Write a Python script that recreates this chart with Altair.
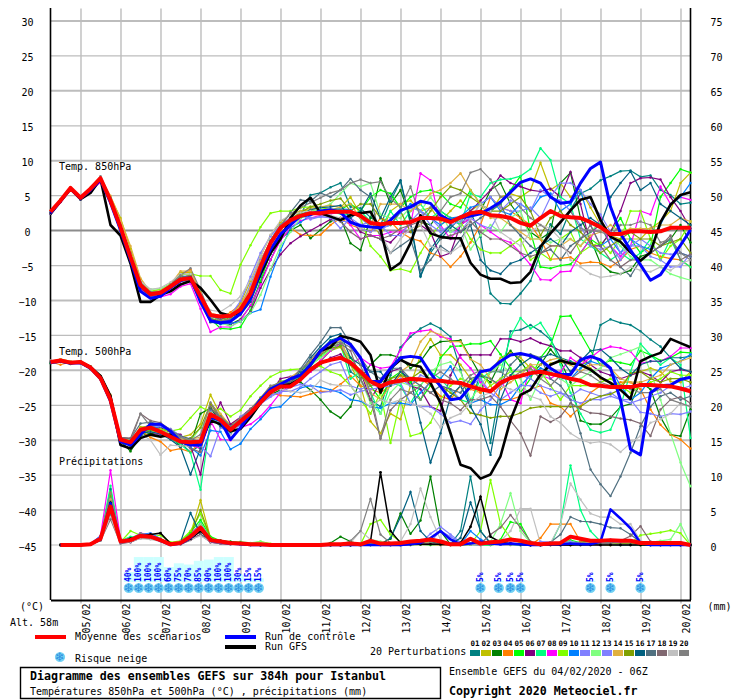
import altair as alt
import pandas as pd

NAMES = ["%02d" % i for i in range(1, 21)]
COLORS = ["#008080", "#c0c000", "#008000", "#ff8000", "#00ff00", "#800080", "#00ff80", "#ff00ff", "#80ff00", "#0080ff",
          "#8080ff", "#80ff80", "#8080ff", "#e0b040", "#80a000", "#006080", "#507080", "#806870", "#c0c0c0", "#808080"]

# 850 hPa, one value every 6 h from 04/02 06Z
T850_MEAN = [2.9,4.5,6.3,4.9,6.2,7.7,4.5,.7,-3.6,-7.6,-8.9,-8.7,-7.8,-6.8,-6.6,-9.2,-11.9,-12.1,-12,-11.1,-8.8,-5,-1.6,.6,1.7,2.3,2.7,2.7,2.9,2.9,
             2.9,2.3,1.3,1.1,1.3,1.3,1.4,2,2,1.9,1.4,2.1,2.7,2.9,2.4,2.3,2,1.3,.9,2,3,2.3,2.1,2,1.4,.7,-.3,-.3,.1,.1,0,.1,.6,.6,.6]
T850_CTRL = [2.7,4.4,6.2,4.8,6,7.5,4.2,.3,-4,-8.5,-9.5,-9.2,-8,-7,-6.5,-10,-12.7,-13,-12.8,-11.7,-9.5,-5.5,-2.5,-.3,1,2.3,2.5,3,3.2,2.8,
             1.4,.9,.7,.6,1.7,3.1,3.6,4.4,4.1,2.4,1.6,2,2.3,2.6,3.4,4.3,5.7,7.1,7.6,7,5,4.1,4.3,7,9.1,10,3.6,-.2,-2.6,-4.7,-6.9,-6.1,-4,-1.9,.3]
T850_GFS = [2.6,4.4,6.2,4.7,5.6,7.6,1,-.5,-4.5,-10,-10,-9,-8.5,-7.5,-7,-8,-9.7,-11.6,-12,-11.5,-9,-6,-3,-1,2,3.8,4.9,2.7,2.2,1.7,
            2.4,2.7,2.9,.3,-5.4,-4.4,-1.6,2.4,-.2,-.7,-.9,-.9,-4.4,-6.1,-6.7,-6.7,-7.3,-7.2,-5.7,-2.1,-.2,1.4,3.1,4.6,5,1.7,-.7,-1.4,-2.9,-4.1,-2.9,1.4,3.9,5.3,5.7]
T850 = {
"01": [2.8,4.5,6.3,4.9,6.1,7.7,4.6,.5,-3.4,-7.2,-8.8,-8.6,-7.6,-6.2,-6.6,-10.1,-12.4,-12.7,-12.5,-11.6,-9.3,-5.8,-1.8,.4,1.5,2.4,5.3,5.6,6.4,7,
       3.6,3.4,2.1,1,4.4,7.3,1.1,-6.4,-3,-1,.6,2,3,-.7,-8.8,-10.2,-10.3,-8.8,-7,-3,1.1,-.3,3.2,5.5,6.2,7.4,8,8.7,8.8,7.9,8.1,6,5.3,4,4.2],
"02": [3,4.6,6.2,4.8,6.3,7.5,5,2,-2.4,-6.8,-8.6,-8.2,-7.5,-5.8,-5.8,-8.6,-12,-12.6,-12,-10.2,-7,-3.5,-.5,1.4,2.5,3,3.2,3,3.2,3.5,
       5,2.5,1.5,-.5,3,4,4.5,3,3.5,1.5,3,4.5,3,4,3,5,5.5,5,6,9.9,6,7,5,6,3.5,1,-.5,-1,-1,-1,.5,1.5,3,7,8.5],
"03": [2.7,4.3,6,4.6,6,7.4,4.2,.2,-4.2,-8,-9,-8.8,-7.9,-6.9,-6.6,-9.8,-12.6,-13,-13.2,-12.5,-10.6,-7.2,-4,-1,.2,1,-.9,.3,1.5,2,
       -1.6,-2.6,2,7.7,4,6,2,1.5,1,3,2,1,2,3,6,7,4,2,0,-1,0,7,8.5,2,-1,-4.5,-5.7,-6,-5.5,-3.5,-3,-2,-1,1,-1.5],
"04": [3,4.6,6.4,5,6.3,7.6,4.7,1,-3.2,-7.4,-8.9,-8.9,-7.8,-6.3,-5.4,-9,-12.1,-12.4,-11.5,-10.4,-8,-4,-1.4,.2,.6,-.4,-.5,-.4,1,2,
       1,.5,0,2,1.5,0,-.9,-1.3,-3,-3.5,-5,-3.5,-1.5,1,5,3.5,3,2,1,-1,-3.9,-3.8,-3.6,-4.5,-4.3,-4.4,-5,-4,-2.5,-2,-3,-3.5,-3.8,-4,-5],
"05": [2.9,4.5,6.3,4.8,6.2,7.7,4.4,.6,-3.8,-7.9,-9,-8.4,-7.7,-6.6,-6.6,-9.4,-12.4,-13.8,-13.9,-13.6,-11.2,-7,-3,-.4,1.2,2,2.5,3,3,3.2,
       4,3,5,6,5.5,3.5,5,5.8,6,5.5,4,3.5,6,4,3,4,6,8,0,-5,-5.2,-4.8,-4.6,-3,-1,-2,0,2,-1,-3,-2,5,7,9,8.5],
"06": [2.6,4.3,6,4.7,6,7.4,4.1,.4,-3.9,-8.1,-9.2,-8.9,-7.9,-6.9,-6.7,-9.6,-12.9,-13,-13.1,-12.8,-11.4,-8,-5.4,-3.2,-1.6,-.6,.2,1,1.8,2,
       2,0,-.5,-1,-1.5,0,0,1,0,-3.5,-3,1,3,4.5,6,8.1,7,6.5,6,5.8,6.2,5,8.6,4,-2,-2,0,3,7,7.7,7.8,7.5,5,3,.5],
"07": [2.8,4.6,6.2,4.9,6.2,7.7,4.6,.8,-3.5,-7.5,-8.7,-8.5,-7.6,-6.6,-6.5,-9,-11.9,-12.4,-12.2,-11,-8.5,-4.6,-1.2,1,2,2.6,3,3,2.8,2.6,
       2.5,3,1.5,.5,3,1,3,4,2,3,2,1,5.5,5,7,7.5,7.6,8,9,12,10.3,5,4,-1,-2,-3,-4,-3,-4,-3,-1,-4,-1,-4,-5],
"08": [2.7,4.4,6.2,4.7,5.9,7.1,4.3,.3,-3.9,-8.3,-9.4,-9.3,-8.9,-7.8,-7.4,-11,-14.3,-13.6,-13.6,-12.6,-10.5,-7.5,-4,-1.2,.6,1.6,2,2.4,2.6,2.8,
       1,-1,-.5,-.5,0,0,1,8.4,7.4,1,-1,1,2,1,0,-1,-1.5,-3,-4.7,-6.8,-6.9,-5.7,-5.6,-3,-1,2,-2,-3.5,-2,3,2.5,6.5,4,5,4.6],
"09": [2.9,4.7,6.3,5,6.1,7.7,4.8,1,-3.3,-7.3,-8.5,-8.2,-7.4,-6.1,-6,-6.3,-6.3,-8.3,-8.8,-4.7,-1.9,.7,2.7,3,3,3.5,3.6,3.5,3.2,3.2,
       3,2,-2,-3.5,-5.5,-5.3,-5.7,-3,-.5,1,2,1.5,-1,-2.5,-3,-3,-2,-1,-4,-3,-4,-1,0,-3,-2,-1.5,-3,-1,3,3,-1,-4,-2,-1,1.5],
"10": [2.7,4.4,6.1,4.7,6,7.4,4.2,.1,-4.4,-8.4,-9.2,-9,-7.9,-6.8,-6.7,-10,-12.8,-13.2,-13.1,-12.8,-11.6,-11.1,-6.4,-2.6,.6,1.4,2.4,3,3.2,3.3,
       3.2,2,.8,.5,1,2.8,4,3,2,1,2,2.2,3.5,4,5,3,2.5,4,3,5,5.5,3,4,6,1,-2,-1,-3,-1,-2,-2.5,1,4,5,7],
"11": [2.9,4.5,6.3,4.9,6.2,7.5,4.7,1,-3.3,-7.6,-8.8,-8.7,-7.7,-6.5,-6.1,-8.8,-11.8,-12.4,-11.9,-9.9,-6.4,-3,-.6,1,2,2.4,1.8,2.2,2,1.5,
       1.5,.5,0,1,-.5,-.5,1.5,3,2,.5,0,0,2,4,5,3.5,3,3,3.5,2,5,7,7,6,4,2.5,0,-3,-2,-1,-2,-3,-3.2,-3,-3.5],
"12": [2.8,4.7,6.4,4.8,6.3,7.7,4.5,.7,-3.6,-7.5,-8.2,-8.1,-7.5,-6.4,-6.4,-9.1,-11.8,-13,-13.5,-12.8,-11.6,-9,-5.4,-2,0,2,2.8,3.4,4,5.5,
       7,6.5,7,2.5,2,2,3.5,3,5,3,0,1,-2.5,-.5,1,0,2,3,-1,-1,-1.5,-1,-1,-2,0,1.5,-.5,-2,-3.5,-4,-4,-5,-6,-6.5,-6.9],
"13": [2.8,4.5,6.2,4.8,6.1,7.5,4.4,.6,-3.7,-7.7,-8.8,-8.6,-7.8,-6.7,-6.5,-9,-12.1,-12.4,-12,-10.8,-7.5,-4,-1.5,.8,2,2.4,2,2.2,2.1,.5,
       2,1,1.5,.5,1,3,3.5,3,1,0,1,1.5,2,1,.5,3,4.5,4,3,6,5,4.5,3,1,-2,-2.5,-2,-4,-2,-2,-3.5,-4,-5,-5,-3],
"14": [3,4.6,6.4,5,6.3,7.8,5.2,1.8,-2,-6.6,-8.6,-8.4,-7.5,-5.6,-5.6,-8.8,-11.6,-12,-11.8,-10.5,-8,-4.2,-1.6,.6,1.6,3,3.4,3.6,3.8,3.5,
       4,2,1,4,4,4,3,4,5.5,6,7,8.4,6,4,2,2,1,0,-1,-1,-2,-2,-1,-2,-.5,0,1,0,.5,.5,.5,1,1,2,1.5],
"15": [2.8,4.5,6.3,4.9,6.2,7.6,4.6,.8,-3.6,-7.6,-8.9,-8.7,-7.8,-6.6,-6.2,-9.2,-12.4,-12.8,-12.2,-11,-8.7,-4.8,-1.5,.5,1.8,2.8,3.6,4,4.5,4.8,
       3,4,4,2,1,3,0,1,3,5,6.5,6,5,4,3,3,4,5,3,-.5,2,3,1,0,-1.5,-3,-2,-1,0,-1,-1,-2,-1.5,-1,-3],
"16": [2.7,4.4,6.2,4.8,6,7.6,4.5,.4,-4,-7.8,-9,-8.8,-7.9,-7,-7,-10,-12.9,-13.1,-12.8,-11.8,-10,-6.4,-3.2,-.8,1,2.4,3.2,3.5,3.6,3.8,
       2,3,5.5,2,5,7.4,1.5,-6.3,-2.5,-.5,1,0,1,-4,-5.5,-6,-4.5,-4,-3,-2,-1,-2,0,1,2,1,5,7,8.7,6,7,4,3,2,1],
"17": [2.8,4.5,6.3,4.8,6.1,7.7,4.8,.9,-3.5,-7.4,-8.6,-8.6,-7.6,-6.4,-6.4,-9.5,-12,-12.5,-12,-11,-8.4,-4.8,-1.4,.8,2.8,4.6,4.4,5.6,5,6,
       7.6,6,5,-1,-3,-2,-1,-5.5,-4,-2,-3,-1,1,2,3,4,1,-.5,-2,-3,-2.5,-4,-2,-1,0,1,-2,-5,-6.3,-4,-3,-2,-1,-3,-3.5],
"18": [2.7,4.4,6.2,4.8,6,7.5,4.4,.5,-3.8,-7.8,-9.2,-8.9,-8,-6.8,-6.6,-9.6,-12.5,-12.9,-12.6,-11.7,-9.6,-6,-3,-.4,1.3,2.2,2.6,2.5,2.2,1.5,
       0,-1,-.5,-1,-.5,.5,1,1.5,.5,-1,-.5,0,1.5,0,-1,-1,-2,-3,-3.5,-3,-2,-2,-3,-1,1,-2,-4,-5,-4,-4,-3,-2,-.5,-4,-3.2],
"19": [2.9,4.6,6.4,4.9,6.2,7.9,4.6,.8,-3.3,-7,-8.2,-8,-7.2,-6,-6,-9.2,-11.2,-11.4,-10.5,-9.2,-6.8,-3.5,-.4,1.6,2.4,2.8,3,2.8,2.4,2,
       1.5,.5,1,0,-3,-1,.5,1,-2,-2.5,-3,-2,2,4,3,0,-1,-2,0,1,.5,-1,-4,-5,-6,-6.5,-6.3,-6,-5,-5.5,-5.7,-5,-5.5,-4.5,-4],
"20": [2.9,4.6,6.3,5,6.2,8,4.9,1,-3,-7.2,-8.7,-8.6,-7.5,-6.2,-5.2,-8.3,-11.8,-12.8,-12.4,-10.8,-8.5,-4.5,-1.2,1,2.6,3.5,4.2,4.9,5.6,6,
       7,7.5,7,7.2,4.8,3.5,6.5,2,3.5,3,5,5.5,8.5,9,7.5,5,5,3.5,2,1,0,1.5,3,.5,.2,0,-.5,1,1,1.5,1,-1.5,-1,-3,-4],
}

# 500 hPa
T500_MEAN = [-18.6,-18.4,-18.7,-18.6,-19.4,-20.9,-24,-29.7,-30.1,-28.3,-28,-28.6,-29.3,-30,-30.1,-30,-26.1,-26.9,-28.3,-27.1,-25.9,-24.4,-22.9,-22.1,-22.1,-21.1,-19.7,-18.7,-18.3,-18,
             -18.7,-20,-21.4,-22.1,-21.5,-21.3,-21,-21.1,-21.3,-21.3,-21.5,-21.6,-22.1,-22.5,-22.8,-21.6,-20.9,-20.6,-20.2,-20,-20.3,-20.6,-21,-21.3,-21.9,-22,-22.2,-22.2,-22.2,-21.9,-21.9,-22,-22.1,-22.4,-22.8]
T500_CTRL = [-18.7,-18.5,-18.8,-18.7,-19.5,-21,-24.2,-30,-30.5,-29,-27.5,-27.5,-28.5,-30,-30.5,-30.5,-26.5,-27,-29.7,-28,-26,-24,-22.5,-21.8,-21,-20.5,-19,-17,-15.8,-15.2,
             -16.1,-18,-21.4,-21.4,-19.5,-18,-17.8,-18,-20.2,-22.1,-24,-23.8,-22.1,-20,-19.7,-18.5,-17.6,-17.4,-17.7,-18.3,-19.5,-20.4,-20.4,-18.3,-17.8,-18.3,-19.5,-24,-31.1,-31.9,-23,-22,-21.9,-21.1,-20.8]
T500_GFS = [-18.6,-18.5,-18.7,-18.6,-19.3,-20.6,-23.5,-30.5,-31,-29.5,-29,-29.3,-29,-30,-30.5,-30,-27,-27.5,-28.5,-28.2,-26.5,-24.5,-23,-22,-21.8,-21,-19,-17,-16.5,-14.9,
            -15.2,-15.7,-17.6,-23,-19.5,-18.3,-19,-19.3,-21.6,-24.5,-28.8,-33.3,-33.8,-35.3,-34.7,-32.1,-26.9,-23.3,-22.6,-20.4,-19,-18.4,-18.8,-19,-19.7,-20.8,-21.6,-22.6,-23.9,-18.5,-17.8,-17.3,-15.3,-15.9,-16.5]
T500 = {
"01": [-18.7,-18.3,-18.7,-18.6,-19.3,-20.7,-23.5,-29.4,-30.3,-28.1,-27.6,-28.3,-29,-30.2,-31.5,-30.5,-27,-27.3,-28.6,-27,-25.6,-24,-22.3,-21.6,-21.5,-20,-18.6,-17,-15.5,-15,
       -20,-21,-24,-25,-20.5,-16.5,-15,-13.8,-13.1,-13.8,-15,-19.7,-25,-20,-30.2,-22,-14.2,-14,-13.3,-14.2,-15.4,-18,-18.5,-19,-18.5,-13.3,-12.5,-13,-13.3,-14.2,-15.4,-16.4,-18,-18,-17.8],
"02": [-18.5,-18.2,-18.5,-18.7,-19.2,-20.6,-23.4,-29.3,-30,-27.9,-27.9,-28.2,-28.7,-29.4,-29,-27.5,-23.3,-26.2,-27.6,-26.6,-25.4,-24,-22.2,-22,-21.6,-20.8,-19,-18,-17,-16.5,
       -19,-22,-27.1,-28.8,-26,-26.8,-22,-17.6,-15.3,-17.6,-17.6,-19,-21,-23,-20,-18,-17.3,-18,-19.5,-21,-18.8,-18.6,-19,-18.2,-19.5,-21,-21.6,-22,-20.5,-20,-19.5,-20,-21.4,-21.5,-20],
"03": [-18.8,-18.5,-18.9,-18.6,-19.6,-21,-24,-29.9,-31.4,-29.2,-28.8,-29,-29.4,-30.6,-30.5,-26,-25.2,-27.2,-28.6,-27.5,-26,-24.6,-23.3,-22.6,-21.6,-21.5,-22.6,-24,-25.7,-26.6,
       -25,-21,-19,-17.6,-17.6,-18,-19.5,-18.5,-16.5,-15.7,-15.6,-15.5,-18,-20.5,-21.5,-18.6,-17,-18.5,-20.5,-19,-16.8,-18.5,-21.5,-27,-27.5,-27.5,-26.6,-25,-24.6,-21.5,-22.5,-26.5,-29,-29.2,-25.4],
"04": [-18.6,-19,-18.6,-18.5,-19.4,-20.9,-24.2,-29.8,-30.2,-28.4,-29.4,-30,-31.3,-31,-31.5,-30,-26.4,-26.8,-28.2,-26.7,-25.8,-24.6,-23,-23.4,-23.5,-23.6,-23.2,-22.8,-22.8,-21.8,
       -20.6,-22,-22.5,-23,-22,-20.5,-22,-21,-22,-23.5,-24,-22,-22.5,-23,-22,-24,-24,-23.5,-22.5,-22,-24.5,-25,-26.4,-25,-23,-22,-22,-21.5,-21.5,-22.5,-25.4,-27.6,-29,-29.7,-31],
"05": [-18.7,-18.5,-18.8,-18.7,-19.5,-21,-24.3,-30,-30.5,-28.7,-28.3,-28.6,-29.2,-29.8,-30.4,-31,-26.3,-27.4,-28.8,-27.2,-25.5,-24,-22.4,-22.2,-21.9,-21,-19.8,-18.5,-17,-16.2,
       -18,-20,-22,-24,-21,-20,-21.5,-24,-22,-18,-16.4,-16.3,-16,-16,-15.6,-17.5,-19.5,-23,-21,-18,-16.2,-12.1,-12,-14.5,-17,-19,-18.4,-18.7,-19,-17,-17.6,-18.4,-18,-17.2,-17.3],
"06": [-18.6,-18.4,-18.7,-18.6,-19.4,-21,-24.2,-29.6,-30.4,-28.4,-28.2,-28,-28.6,-29,-30.6,-34.7,-27.5,-24.4,-27.5,-26.5,-25.3,-24,-23,-21,-20.7,-20.5,-20,-19,-18,-17.5,
       -19,-20,-24,-21.5,-20,-19.5,-22,-22.5,-25,-25.6,-20.5,-17.6,-17.6,-17.6,-17.6,-15.3,-15.3,-15.7,-15.2,-15.9,-16.3,-17,-17,-18,-19,-20,-20.5,-21,-20.5,-20,-20.5,-21.5,-20,-19.7,-20],
"07": [-18.6,-18.3,-18.6,-18.5,-19.3,-20.8,-23.8,-29.7,-30.1,-28.2,-27.9,-28.6,-29.5,-30.4,-31.6,-36.9,-27.2,-27,-28.1,-27,-25.8,-24.4,-22.8,-22,-21.8,-20.6,-19.2,-17.8,-16.8,-16,
       -21,-20,-23,-26,-21.5,-22,-24.5,-22,-20,-21,-22.6,-24,-24.5,-21,-20,-20,-15,-12.3,-13.8,-13,-15.2,-19,-23,-26,-28.3,-28.7,-28.3,-25,-20,-16,-17.6,-19,-18,-19,-29.5],
"08": [-18.5,-18.4,-18.7,-18.6,-19.4,-20.8,-23.9,-29.5,-30,-28.4,-28.6,-29,-29.5,-30,-30.4,-31,-27,-29.7,-29.8,-28,-27.5,-26.4,-24.8,-23,-21.8,-21.2,-20,-18.4,-17,-16,
       -19,-18,-19,-19.5,-19.3,-16.9,-14.5,-14.2,-14,-15,-15.3,-18,-19.5,-21.5,-23,-21,-24,-24.5,-19,-20.5,-21,-20,-18,-19,-18,-16.9,-16.4,-16.6,-17.1,-18.8,-18.5,-18.5,-17.8,-16.6,-16.6],
"09": [-18.6,-18.3,-18.6,-18.6,-19.2,-20.7,-23.6,-29.4,-29.9,-28.6,-28.4,-28.2,-28.5,-28.2,-26.6,-25,-25.8,-25.3,-26.4,-25.5,-23.5,-22,-20.7,-20,-19.7,-19.6,-19.4,-19.2,-20,-20.5,
       -22,-24,-26,-23,-30.2,-24,-29.2,-28.8,-27.3,-24,-22,-21,-21.5,-20,-22,-21,-20,-20,-19,-20,-22,-24,-22,-22,-22,-21.5,-21,-22,-23,-22,-21.5,-21,-20,-20.5,-20.5],
"10": [-18.7,-18.5,-18.8,-18.7,-19.5,-21,-24.4,-29.9,-30.6,-28.7,-28.2,-27.8,-28.5,-29.6,-30.8,-32,-28.4,-28.6,-31.1,-30.3,-28.2,-26.8,-25.2,-25,-23.6,-22.3,-22,-22.2,-22.6,-23,
       -24,-24.2,-25,-25.2,-24.5,-24.5,-24.7,-23,-21.5,-21,-19.2,-22,-24.5,-24,-24.7,-24.7,-24,-22,-20.5,-19.5,-20,-21,-21,-19.5,-18.5,-19,-19.5,-22,-24,-23,-21,-19.5,-19,-18.5,-17.5],
"11": [-18.6,-18.4,-18.6,-18.6,-19.3,-20.9,-24,-29.8,-30.4,-28.3,-27.6,-27.6,-28.2,-29.2,-30,-30.6,-32.1,-28,-28.6,-27.6,-26,-24.6,-23.3,-23,-22.2,-21.8,-22,-23,-22.8,-22.6,
       -23.3,-22.8,-22.5,-22.3,-22,-21.6,-24.5,-25,-25,-26,-27.3,-27,-27.5,-25.5,-24,-22,-21,-20.5,-21,-22,-22.5,-23,-24,-24.5,-24,-24,-23.5,-24,-24,-25.8,-26,-26.4,-26,-26.1,-25.7],
"12": [-18.7,-18.4,-18.8,-18.6,-19.4,-20.8,-23.8,-29.5,-30.3,-28.8,-28.5,-28.8,-29,-29.6,-30,-28,-26,-27,-28.7,-27,-25.7,-24,-22.2,-21.4,-21,-20.2,-19,-18,-16.8,-15.6,
       -19,-21,-24.5,-26,-23,-21.5,-22,-22,-20,-19,-18.6,-20,-24,-22,-20,-19,-20,-21,-24,-21,-20,-21,-22,-21,-20,-19.5,-18,-17.5,-17,-16.4,-20,-24,-28.8,-33,-36.4],
"13": [-18.6,-18.4,-18.7,-18.7,-19.4,-20.9,-24,-29.6,-30.2,-28.3,-27.8,-27.8,-28.2,-29.3,-30.2,-30,-25.6,-27.3,-28.9,-26.4,-25.6,-24.6,-23.6,-22.8,-22.8,-22.2,-21,-20,-19,-18.6,
       -22,-22.5,-22,-22,-21.5,-21,-22,-20.5,-21,-22,-22.5,-24,-22,-21,-23,-24,-23,-22,-22,-23,-23.5,-23,-23.5,-22.5,-23,-23.5,-23,-24,-24.5,-24,-23.5,-23,-22,-22.5,-22],
"14": [-18.6,-18.2,-18.5,-18.5,-19.2,-20.6,-23.3,-29.3,-30,-28.2,-28,-28.4,-29,-29.6,-29.6,-29.4,-24.6,-26,-27.8,-26.7,-25.6,-23.8,-22,-22,-20.8,-19.8,-18.4,-17,-16.2,-15.6,
       -18.5,-20,-23,-24,-22,-20,-19,-15.7,-14.2,-14.7,-15.7,-15.7,-18.2,-19,-21,-22.5,-21.5,-20.5,-19,-19,-18.3,-18,-19,-20,-19,-19,-19.5,-21,-21.5,-21.5,-21,-20.5,-19,-18.5,-18],
"15": [-18.7,-18.4,-18.7,-18.6,-19.4,-20.8,-23.7,-29.5,-30.6,-29,-28.4,-28.6,-29.4,-30,-29.5,-28,-24.6,-26.6,-28,-26.8,-25.4,-23.7,-22.3,-21.4,-21.2,-20.6,-18.8,-17.6,-16.6,-16.4,
       -19,-20.5,-22,-21.5,-21,-20.5,-21,-20,-21,-22,-23,-24,-25.9,-26.2,-26.6,-26.4,-26.4,-25.9,-25.2,-25,-25,-25,-25,-25,-24,-23.5,-23.2,-22.5,-20.2,-20,-21,-21.5,-21,-21,-21.5],
"16": [-18.7,-18.5,-18.8,-18.8,-19.6,-21.1,-24.4,-30,-30.6,-28.8,-28.6,-28.9,-29.7,-30.8,-34.7,-31,-26.6,-27.8,-28.6,-27.4,-25.9,-24.4,-22.7,-22,-21.5,-20,-18,-16.4,-15,-14.6,
       -18,-19,-20,-20,-22,-20,-21,-27.3,-33,-28.8,-23.5,-22,-25,-27.5,-31.9,-24,-20.5,-19,-18,-18,-17.5,-18,-20,-18.5,-17,-16.8,-18,-19.5,-20.5,-19,-18.5,-18.5,-18,-19.5,-20],
"17": [-18.5,-18.3,-18.6,-18.5,-19.3,-20.6,-23.6,-29.4,-29.6,-27.4,-27.2,-27.6,-28.4,-29.2,-29.6,-30,-25.4,-26.4,-27.8,-26.8,-25.5,-23.9,-22.3,-21.6,-21.4,-19.6,-17.6,-15.8,-13.7,-13.7,
       -16,-18,-20,-21,-19.5,-19.5,-21,-22,-23,-22,-22.5,-23,-21,-20.5,-21,-22,-19,-17.6,-17.5,-18,-21,-22,-24,-28.8,-34,-36.1,-37.8,-35,-31.6,-27.8,-25,-23.5,-23,-24,-23.5],
"18": [-18.6,-18.4,-18.7,-18.7,-19.4,-20.9,-23.9,-29.4,-29.5,-26,-27,-27.3,-28.3,-29.8,-31,-31.5,-25,-26.8,-28.4,-26.9,-25.7,-24.3,-22.6,-21.8,-21.6,-20.4,-18.8,-17.4,-16.4,-16,
       -17,-21,-24,-29.6,-25.5,-24,-23,-22,-23,-24,-24.5,-25.5,-24,-24,-23.5,-25,-27,-28.8,-32,-26.4,-27.2,-26.4,-24.5,-25.3,-25.9,-26,-26.4,-26.7,-26.9,-27.4,-29.2,-25.4,-24,-23.6,-24.5],
"19": [-18.4,-18.4,-18.6,-18.6,-19.3,-20.7,-23.7,-29.5,-30.1,-28.8,-29.8,-31.9,-30.5,-30.6,-30.6,-29.4,-26,-27.5,-29,-27.2,-25.8,-24.2,-22.6,-22.5,-22.8,-23,-22.7,-21.2,-21.8,-22,
       -22,-24,-25,-24,-24.5,-24,-24.5,-25,-26,-28,-26.6,-26,-24.5,-23.5,-23,-22,-22.5,-23,-23.5,-24,-26.4,-27.3,-28.8,-29.7,-30.2,-30,-30.4,-31.5,-30.2,-29.2,-27.3,-26.8,-26,-24.5,-25],
"20": [-18.5,-18.3,-18.7,-18.5,-19.3,-20.7,-23.5,-29.5,-30,-26,-27.8,-27.6,-28.4,-29.4,-29.8,-29,-24.4,-26.5,-28,-26.6,-25.4,-23.8,-22,-21.6,-21.2,-19.8,-18.2,-16.8,-16,-15.8,
       -16.5,-19,-23,-29.5,-24,-22.5,-23,-24,-21,-20,-21,-22,-20.5,-19.8,-20,-20,-21,-20,-19.5,-21,-22,-20.5,-21,-20,-20.5,-21.5,-22,-22,-22.5,-23,-23,-22.5,-24,-24.5,-25],
}

# precipitation (mm), starts at the second time step
PR_MEAN = [0,0,0,.1,.9,5.5,.5,.7,1.3,1.2,.7,.1,.3,1.2,2.5,.7,.5,.3,.2,.1,.1,0,0,0,0,0,0,.1,.1,
           .2,.1,.6,.2,.2,.3,.5,.6,.8,.5,.1,.1,.9,.2,.4,.5,.8,.6,.3,.1,.2,.3,1.2,.9,.6,.6,.7,.6,.6,.3,.3,.3,.3,.3,0]
PR_CTRL = [0,0,0,.1,.8,6,.4,.7,1.4,1.2,.6,0,.2,1,2.5,.6,.4,.2,.1,0,0,0,0,0,0,0,0,0,0,
           0,0,0,0,0,0,.1,.3,1,2,.8,.1,.2,.5,.2,.1,.2,.1,0,0,.1,.1,.2,.1,.1,.5,5.1,3.8,2.4,.3,0,0,0,0,0]
PR_GFS = [0,0,0,.1,.8,6,.5,.9,1.3,1.5,1.7,.2,.3,.9,2,.8,.6,.4,.3,.1,0,0,0,0,0,0,0,0,0,
          0,.1,.5,10.4,2,.3,.1,.1,.1,.1,.1,.3,2.6,6.9,1.2,.4,.2,.1,0,0,0,0,0,0,0,0,0,0,0,0,0,0,0,0,0]
PR = {
"01": [0,0,0,.1,1,8,.4,.6,1,1.2,.7,.1,.2,1.5,3,.8,.4,.2,.1,.1,0,0,0,0,0,0,0,0,0,
       0,0,0,0,0,0,0,.1,.2,0,.1,2,9.8,2,.3,.1,.2,0,0,0,.1,0,0,.2,.2,0,.1,0,.1,0,0,0,.1,0,0],
"02": [0,0,0,.1,1,7.5,.5,.7,1.3,1.4,.9,.2,.4,1.6,6.4,1,.6,.4,.2,.1,0,0,0,0,0,0,0,0,0,
       0,0,.6,.3,.2,.1,.1,.3,.3,.1,.1,0,.1,.2,.2,.1,0,0,0,.1,.2,.3,.2,.1,.1,.1,0,.1,.1,.3,.2,.2,.1,.1,0],
"03": [0,0,0,.1,.8,5.5,.3,.9,1.2,1,.8,.1,.4,.9,2,.6,.4,.2,.1,.1,0,0,0,0,0,0,0,.3,1.2,
       .5,.1,0,.2,.9,4.5,1.6,3.5,9.8,2,.1,0,.2,.1,0,.2,.1,0,0,.1,.1,.2,.2,.4,.5,.6,.4,.3,.2,.1,.1,.2,.2,.2,0],
"04": [0,0,0,.1,.9,6,.5,.6,1.1,1.1,.6,.1,.2,1,2,.5,.3,.2,.1,0,.1,0,0,0,0,0,0,0,0,
       0,0,0,.1,.1,0,0,.1,0,0,0,.1,.2,.1,.3,.2,.1,.2,0,1,3,3,3,.5,.1,.1,0,.2,.2,0,.1,0,.1,0,0],
"05": [0,0,0,.1,1.1,7,.6,1,1.6,1.2,.8,.2,.5,1.8,3.6,1.2,.6,.5,.4,.2,.1,0,0,0,0,0,0,0,.1,
       0,0,.2,.3,.1,.1,.2,.5,.4,.1,0,0,.1,0,.1,.8,3.3,3,.4,.1,.2,.1,.7,.3,.6,.3,.2,.2,.3,.2,.1,.2,.3,.3,0],
"06": [0,0,0,.1,.8,5,.3,.4,1,.9,.6,.1,.1,.8,1.5,.4,.2,.1,.1,0,0,0,0,0,0,0,0,0,0,
       0,.1,.1,.1,0,0,.1,.1,.1,.1,0,0,.1,.2,.1,.1,.1,.1,0,.1,.1,0,0,.2,.2,.2,.2,.1,.1,.1,.1,.1,.2,0,0],
"07": [0,0,0,.1,1,8.5,.6,1.2,1,.9,.7,.1,.5,1.2,3.2,.9,.5,.3,.2,.2,0,0,0,0,0,0,0,0,0,
       0,0,.1,.1,0,0,.2,.1,0,.1,.1,.2,.1,0,0,.2,.1,0,0,.1,.1,3,11.4,5,2,.5,.3,.1,.1,0,.1,.2,.2,.1,0],
"08": [0,0,0,.2,1.3,10.7,.8,.8,1.7,1.5,.7,.2,.4,1.5,3,.9,.6,.4,.2,.1,0,0,0,0,0,0,0,0,0,
       0,.1,.1,0,0,0,.1,.2,.3,.1,0,.1,.1,0,.2,.1,.3,.1,0,0,.1,.2,.1,.1,.1,0,.2,.1,.1,.1,.2,.2,.1,.1,0],
"09": [0,0,0,.1,.9,7,.4,2,1.4,1.1,1.4,.4,.6,2,4.5,1,.6,.3,.4,.2,.5,.2,0,0,0,0,0,0,.1,
       .1,.1,3,3.6,1.5,.5,.2,.1,.1,.3,.1,.2,.1,2,9.3,3,1,.3,.1,0,.1,.2,.3,.2,.1,.2,.2,.3,.3,1.4,1.6,1.8,2.1,1.7,0],
"10": [0,0,0,.2,1.3,6,.5,.7,1.5,1.7,.9,.1,.3,1.4,2.5,.7,.5,.4,.2,.1,0,0,0,0,0,0,0,0,0,
       0,0,.1,.1,0,.1,.2,.1,.3,.6,.3,.1,2,.8,.2,.1,.1,.1,0,0,.1,.1,.1,.1,.1,.1,.2,.1,.1,.1,0,.1,.1,0,0],
"11": [0,0,0,.1,1,6.5,.4,.8,1.4,1.6,.8,.2,.3,1.2,2.4,.8,.5,.3,.1,.1,0,0,0,0,0,0,0,0,0,
       0,0,.1,0,0,0,.2,.3,1.6,2.6,1.5,.4,.2,.1,.1,.2,0,0,0,0,.4,.3,.2,.2,.3,.3,.8,.5,.2,.2,.1,.3,.4,.1,0],
"12": [0,0,0,.1,.8,5.5,.4,.8,1.3,1.3,.8,.2,.3,1.3,3,.7,.4,.3,.5,.3,.5,.1,0,0,0,0,0,0,.1,
       .1,.2,.8,.5,.2,.1,0,.1,.1,.2,.1,.1,.1,.1,.5,3,7.4,2,.3,.1,.2,.2,.5,.2,.1,.1,.2,.3,.3,.3,.4,.6,.8,3,0],
"13": [0,0,0,.1,1,7,.4,.7,1.7,1.3,.7,.1,.3,1,2.2,.7,.4,.2,.1,.1,0,0,0,0,0,0,0,0,0,
       0,0,0,.1,.1,0,.1,.2,.5,2,1.2,.3,.1,.1,.1,.1,.1,.1,0,.5,.4,.3,.5,.3,.2,.2,.3,.4,.5,.3,.2,.1,.2,.1,0],
"14": [0,0,0,.1,.9,6.5,.5,.8,1.1,1,.6,.1,.2,1,2.6,.6,.4,.3,.2,.1,0,0,0,0,0,0,0,0,0,
       0,.1,.4,.2,.1,.1,.1,.3,.4,.2,.1,.1,.2,.1,.1,.2,.1,.1,.1,.1,.1,.2,.2,.2,.3,.2,.1,.1,.1,.2,.3,.2,.1,.1,0],
"15": [0,0,0,.1,.8,7,.4,.6,1.3,1.1,.8,.1,.3,1.5,5,1,.5,.3,.2,.1,0,0,0,0,0,0,0,0,0,
       0,0,.2,.1,.1,0,.1,.2,.2,.1,0,.1,.1,.2,.3,.2,.1,.1,0,0,.1,.1,.1,.1,.2,.2,.1,.2,.2,.1,.1,.1,.2,.1,0],
"16": [0,0,0,.1,.9,6,.6,.9,1.2,1.1,.7,.1,.4,4.6,1.5,.8,.5,.3,.2,.1,0,0,0,0,0,0,0,0,0,
       0,0,0,0,1,4,7.6,2,.5,.1,.1,1,6.1,2,.2,.1,.1,0,0,0,.1,.2,.1,.1,.2,.2,.1,0,0,.1,.1,.1,.1,0,0],
"17": [0,0,0,.1,.7,4.5,.3,.5,1.4,1.4,.8,.1,.2,1,2,.5,.3,.2,.1,0,0,0,0,0,0,0,0,0,0,
       0,0,.1,.1,0,.1,.1,.2,.2,.1,.1,.1,.2,.1,.1,.1,.2,.1,0,0,.4,1.5,4,3.4,3.3,3,2.5,2.4,1.5,.4,.2,.1,.1,.1,0],
"18": [0,0,0,.1,.6,3.7,.2,.4,1,1,.6,.1,.1,.7,1.5,.4,.2,.1,.1,0,0,0,0,0,0,0,0,0,0,
       0,.1,.2,.1,.1,0,.1,.2,.2,.1,0,.2,.1,.2,1.5,2.5,4.3,2.5,.5,.1,.1,.1,.2,.3,.2,.2,.3,.6,1.3,2.7,.5,.1,.1,.1,0],
"19": [0,0,0,.1,.7,4,.3,.5,.9,.8,.5,.1,.5,.8,1.3,.5,.3,.2,.1,0,0,0,0,0,0,0,0,0,0,
       .3,2,.8,.3,.1,.5,3,8.1,4,.8,.2,.1,.1,.2,.4,.6,2,5.2,5.2,.2,.3,3,8.8,6.5,4.5,4,4,3,3,.6,.2,.2,.1,.1,0],
"20": [0,0,0,.1,1,7.5,.5,.7,1.7,1.3,.8,.1,.3,1.3,2.6,.7,.4,.3,.2,.1,0,0,0,0,0,0,0,0,0,
       .6,2,6.6,1.5,.3,.1,.1,.2,.3,.1,.1,.1,.2,.2,.3,.2,.1,.1,.1,.1,.1,.2,.2,.1,.1,.1,.1,.1,.1,.1,.1,.1,.1,.1,0],
}

# snow risk: forecast hour and percentage
SNOW_H = [47,53,59,65,71,77,83,89,95,101,107,113,119,125,258,269,276,282,324,336,354]
SNOW_PCT = [40,100,100,100,60,75,70,85,90,100,100,30,15,15,5,5,5,5,5,5,5]
DAY_TICKS = [18,42,66,90,114,138,162,186,210,234,258,282,306,330,354,378]
GRID_THIN = [-45,-35,-25,-15,-5,5,15,25]
GRID_THICK = [-40,-30,-20,-10,10,20,30]
LEFT_TICKS = list(range(-45, 31, 5))
RIGHT_TICKS = list(range(0, 76, 5))

MONO = "DejaVu Sans Mono"
GRID = "#bdbdbd"
CAL = 0.2   # reading offset of the temperature zero line
W, H = 640, 592
y0_t = 230.6
px_per = 6.987
dom_t = [(y0_t - 600) / px_per, (y0_t - 8) / px_per]
dom_p = [dom_t[0] + 45, dom_t[1] + 45]
STEP = 6


def long(d, start_hour, field, shift=0.0):
    rows = []
    for name, vals in d.items():
        for i, v in enumerate(vals):
            rows.append({"s": name, "h": start_hour + i * STEP, field: v - shift})
    return pd.DataFrame(rows)


xs = alt.Scale(domain=[0, 384], nice=False, zero=False, padding=0)
x_axis = alt.Axis(values=DAY_TICKS, title=None, grid=True, gridColor=GRID, gridWidth=1.4, domainColor="#000", domainWidth=2,
                  ticks=True, tickSize=3, tickColor=GRID, tickWidth=1.4, labelAngle=270, labelAlign="right", labelBaseline="middle",
                  labelOffset=6, labelPadding=0, labelFont=MONO, labelFontSize=10, labelColor="#000", labelOverlap=False,
                  labelFlush=False, labelExpr="(5 + (datum.value - 18) / 24 < 10 ? '0' : '') + (5 + (datum.value - 18) / 24) + '/02'")
X = alt.X("h:Q", scale=xs, axis=x_axis)
yl_axis = alt.Axis(values=LEFT_TICKS, title=None, grid=False, domain=False, ticks=False, labelFont=MONO, labelFontSize=10, labelColor="#000",
                   labelAlign="center", labelPadding=23.5, labelOffset=2, orient="left", labelOverlap=False, labelFlush=False)
yr_axis = alt.Axis(values=RIGHT_TICKS, title=None, grid=False, domain=False, ticks=False, labelFont=MONO, labelFontSize=10, labelColor="#000",
                   labelAlign="left", labelPadding=19.5, labelOffset=2, orient="right", labelOverlap=False, labelFlush=False)
ys = alt.Scale(domain=dom_t, nice=False, zero=False)
yp = alt.Scale(domain=dom_p, nice=False, zero=False)
YT = alt.Y("T:Q", scale=ys, axis=yl_axis)
YP = alt.Y("P:Q", scale=yp, axis=yr_axis)
color = alt.Color("s:N", scale=alt.Scale(domain=NAMES, range=COLORS), legend=None)


def hrule(vals, col, sw):
    return alt.Chart(pd.DataFrame({"T": vals})).mark_rule(color=col, strokeWidth=sw).encode(y=YT)


frame = alt.Chart(pd.DataFrame({"h": [0, 384]})).mark_rule(color="#000", strokeWidth=1.6).encode(x=X)

snow = pd.DataFrame({"h": SNOW_H, "pct": SNOW_PCT})
snow["T"] = -50.3
snow["Ttop"] = snow["T"] + snow["pct"] * 0.25 / px_per
snow["lab"] = snow["pct"].astype(str) + "%"
snow["Tf"] = (y0_t - 588) / px_per
snow_bars = alt.Chart(snow).mark_bar(color="#ccffff", size=10).encode(x=X, y=YT, y2="Ttop:Q")
snow_c = alt.Chart(snow).mark_point(shape="circle", filled=True, size=105, color="#74d2f4", opacity=1).encode(
    x=X, y=alt.Y("Tf:Q", scale=ys, axis=yl_axis))
snow_f = alt.Chart(snow).mark_text(text="\u2744", font="DejaVu Sans", fontSize=12, color="#2f8fe0", baseline="middle").encode(
    x=X, y=alt.Y("Tf:Q", scale=ys, axis=yl_axis))
snow_t = alt.Chart(snow).mark_text(angle=270, align="left", baseline="middle", font=MONO, fontWeight="bold", fontSize=8,
                                   color="#0000ff").encode(x=X, y=alt.Y("T:Q", scale=ys, axis=yl_axis), text="lab:N")


def pert(df, Y):
    return alt.Chart(df).mark_line(strokeWidth=1.2, clip=False, point=alt.OverlayMarkDef(size=6, filled=True, strokeWidth=0)).encode(
        x=X, y=Y, color=color, detail="s:N")


def main_line(vals, start, field, Y, col, sw, shift=0.0):
    df = long({"m": vals}, start, field, shift)
    return alt.Chart(df).mark_line(color=col, strokeWidth=sw, strokeJoin="round").encode(x=X, y=Y)


temp = alt.layer(
    hrule(GRID_THIN, GRID, 1.2), hrule(GRID_THICK, GRID, 2), hrule([0], "#8c8c8c", 2),
    frame, snow_bars, snow_c, snow_f, snow_t,
    pert(long(T850, 0, "T", CAL), YT), pert(long(T500, 0, "T", CAL), YT),
    main_line(T850_GFS, 0, "T", YT, "#000000", 2.6, CAL), main_line(T500_GFS, 0, "T", YT, "#000000", 2.6, CAL),
    main_line(T850_CTRL, 0, "T", YT, "#0000ff", 3, CAL), main_line(T500_CTRL, 0, "T", YT, "#0000ff", 3, CAL),
    main_line(T850_MEAN, 0, "T", YT, "#ff0000", 4, CAL), main_line(T500_MEAN, 0, "T", YT, "#ff0000", 4, CAL),
)
precip = alt.layer(
    pert(long(PR, 6, "P"), YP),
    alt.Chart(long({"m": PR_GFS}, 6, "P")).mark_line(color="#000000", strokeWidth=1.5, point=alt.OverlayMarkDef(size=8, filled=True, color="#000000", strokeWidth=0)).encode(x=X, y=YP),
    main_line(PR_CTRL, 6, "P", YP, "#0000ff", 2.5),
    main_line(PR_MEAN, 6, "P", YP, "#ff0000", 4),
)
main = alt.layer(temp, precip).resolve_scale(y="independent")

# text, legend and caption, placed in page pixels
OX, OY = 50.5, 8
PX = alt.X("px:Q", scale=None, axis=None)
PY = alt.Y("py:Q", scale=None, axis=None)
PX2 = alt.X2("px2:Q")
PY2 = alt.Y2("py2:Q")

box = pd.DataFrame({"px": [20.5 - OX], "px2": [440.5 - OX], "py": [667.5 - OY], "py2": [698.5 - OY]})
box_l = alt.Chart(box).mark_rect(fill="#ffffff", stroke="#000", strokeWidth=1.4).encode(x=PX, x2=PX2, y=PY, y2=PY2)

reg = pd.DataFrame([
    ("Temp. 850hPa", 59, 167), ("Temp. 500hPa", 59, 352), ("Pr\u00e9cipitations", 59, 462),
    ("(\u00b0C)", 20, 607), ("(mm)", 707.5, 607), ("Alt. 58m", 10, 623),
    ("Moyenne des sc\u00e9narios", 75, 637), ("Run de contr\u00f4le", 265, 637), ("Run GFS", 265, 647),
    ("Risque neige", 75, 659), ("20 Perturbations", 370, 652),
    ("Temp\u00e9ratures 850hPa et 500hPa (\u00b0C) , pr\u00e9cipitations (mm)", 30, 692),
    ("Ensemble GEFS du 04/02/2020 - 06Z", 449, 672),
], columns=["t", "px", "py"])
reg["px"] -= OX
reg["py"] -= OY
reg_l = alt.Chart(reg).mark_text(align="left", baseline="middle", font=MONO, fontSize=10, color="#000").encode(x=PX, y=PY, text="t:N")

bold = pd.DataFrame([
    ("Diagramme des ensembles GEFS sur 384h pour Istanbul", 30, 677),
    ("Copyright 2020 Meteociel.fr", 449, 692),
], columns=["t", "px", "py"])
bold["px"] -= OX
bold["py"] -= OY
bold_l = alt.Chart(bold).mark_text(align="left", baseline="middle", font=MONO, fontWeight="bold", fontSize=11.6, color="#000").encode(x=PX, y=PY, text="t:N")

leg = pd.DataFrame([(35, 66, 637, "#ff0000"), (225, 256, 637, "#0000ff"), (225, 256, 647, "#000000")], columns=["px", "px2", "py", "c"])
leg["px"] -= OX
leg["px2"] -= OX
leg["py"] -= OY
leg_l = alt.Chart(leg).mark_rule(strokeWidth=4).encode(x=PX, x2=PX2, y=PY, color=alt.Color("c:N", scale=None))

flake = pd.DataFrame({"px": [60 - OX], "py": [657 - OY]})
flake_c = alt.Chart(flake).mark_point(shape="circle", filled=True, size=105, color="#74d2f4", opacity=1).encode(x=PX, y=PY)
flake_f = alt.Chart(flake).mark_text(text="\u2744", font="DejaVu Sans", fontSize=12, color="#2f8fe0", baseline="middle").encode(x=PX, y=PY)

sw = pd.DataFrame({"n": NAMES, "c": COLORS})
sw["px"] = [470 - OX + 11 * i for i in range(20)]
sw["px2"] = sw["px"] + 10
sw["py"] = 650 - OY
sw["py2"] = 656 - OY
sw["pxc"] = sw["px"] + 5
sw["pyc"] = 644 - OY
sw_r = alt.Chart(sw).mark_rect().encode(x=PX, x2=PX2, y=PY, y2=PY2, color=alt.Color("c:N", scale=None))
sw_t = alt.Chart(sw).mark_text(font=MONO, fontWeight="bold", fontSize=7.5, color="#000", baseline="middle").encode(
    x=alt.X("pxc:Q", scale=None, axis=None), y=alt.Y("pyc:Q", scale=None, axis=None), text="n:N")

notes = alt.layer(box_l, reg_l, bold_l, leg_l, flake_c, flake_f, sw_r, sw_t)

chart = alt.layer(main, notes).resolve_scale(x="independent", y="independent").properties(
    width=W, height=H, autosize=alt.AutoSizeParams(type="none"),
    padding={"left": 42.5, "top": 0, "right": 41.5, "bottom": 100},
    background="#ffffff",
).configure_view(stroke=None)

chart.save("out.html", embed_options={"renderer": "svg", "actions": False})
